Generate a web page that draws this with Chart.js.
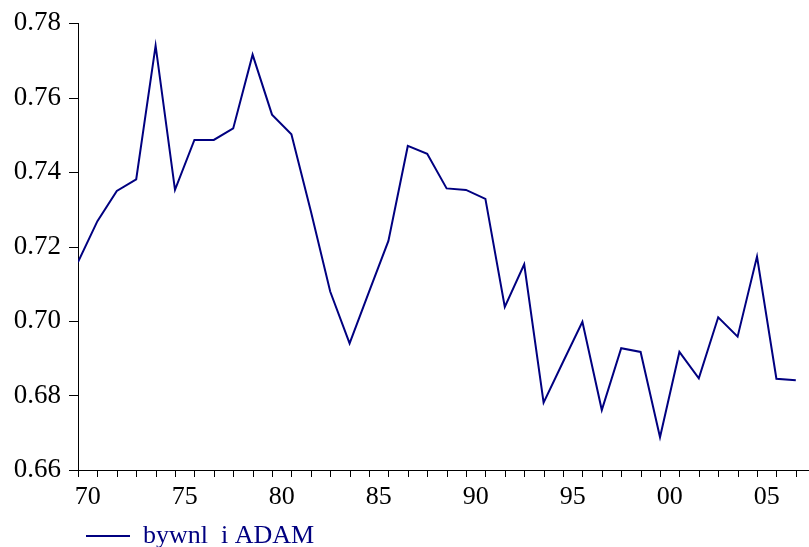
<!DOCTYPE html>
<html>
<head>
<meta charset="utf-8">
<script src="https://cdn.jsdelivr.net/npm/chart.js@4/dist/chart.umd.min.js"></script>
<style>
  html, body { margin: 0; padding: 0; background: #ffffff; }
  #wrap { width: 809px; height: 547px; }
</style>
</head>
<body>
<div id="wrap"><canvas id="chart" width="809" height="547"></canvas></div>
<script>
// Annual observations, one point per year
const years = [1970, 1971, 1972, 1973, 1974, 1975, 1976, 1977, 1978, 1979,
               1980, 1981, 1982, 1983, 1984, 1985, 1986, 1987, 1988, 1989,
               1990, 1991, 1992, 1993, 1994, 1995, 1996, 1997, 1998, 1999,
               2000, 2001, 2002, 2003, 2004, 2005, 2006, 2007];
const bywnl = [0.7158, 0.7268, 0.7349, 0.7380, 0.7739, 0.7352, 0.7486, 0.7486, 0.7517, 0.7715,
               0.7554, 0.7501, 0.7295, 0.7079, 0.6940, 0.7078, 0.7215, 0.7470, 0.7449, 0.7356,
               0.7352, 0.7328, 0.7038, 0.7152, 0.6781, 0.6890, 0.6998, 0.6761, 0.6927, 0.6917,
               0.6688, 0.6917, 0.6846, 0.7010, 0.6958, 0.7173, 0.6845, 0.6841];
const seriesName = 'bywnl  i ADAM';
// Labelled years on the time axis (shown as two digits, centred in the year)
const labelYears = [1970, 1975, 1980, 1985, 1990, 1995, 2000, 2005];
// Value axis
const yMin = 0.66, yMax = 0.78, yStep = 0.02;
const xMin = 1970, xMax = 2007.68;

const serif = '"Liberation Serif", "Times New Roman", Times, serif';
const navy = '#000080';

const points = years.map((yr, i) => ({ x: yr, y: bywnl[i] }));

// Outward tick marks: one per year on the time axis, one per label on the value axis
const tickMarks = {
  id: 'tickMarks',
  afterDraw(chart) {
    const { ctx, chartArea } = chart;
    const xs = chart.scales.x, ys = chart.scales.y;
    ctx.save();
    ctx.strokeStyle = '#000000';
    ctx.lineWidth = 1;
    ctx.beginPath();
    years.forEach(v => {
      const px = Math.round(xs.getPixelForValue(v)) + 0.5;
      ctx.moveTo(px, chartArea.bottom);
      ctx.lineTo(px, chartArea.bottom + 7);
    });
    ys.ticks.forEach(t => {
      const py = Math.round(ys.getPixelForValue(t.value)) + 0.5;
      ctx.moveTo(chartArea.left - 9, py);
      ctx.lineTo(chartArea.left, py);
    });
    ctx.stroke();
    ctx.restore();
  }
};

new Chart(document.getElementById('chart'), {
  type: 'line',
  data: {
    datasets: [{
      label: seriesName,
      data: points,
      borderColor: navy,
      backgroundColor: navy,
      borderWidth: 2,
      pointRadius: 0,
      tension: 0,
      fill: false
    }]
  },
  options: {
    responsive: false,
    devicePixelRatio: 1,
    animation: false,
    events: [],
    layout: { padding: { top: 23, right: 0, bottom: -12, left: 0 } },
    scales: {
      x: {
        type: 'linear',
        position: 'bottom',
        min: xMin,
        max: xMax,
        afterBuildTicks: (scale) => {
          scale.ticks = labelYears.map(v => ({ value: v + 0.5 }));
        },
        afterFit: (scale) => { scale.height = 45; },
        ticks: {
          display: true,
          autoSkip: false,
          maxRotation: 0,
          padding: 14,
          color: '#000000',
          font: { family: serif, size: 26, lineHeight: 1 },
          callback: (v) => String(Math.floor(v) % 100).padStart(2, '0')
        },
        grid: { display: false, drawTicks: false },
        border: { display: true, color: '#000000', width: 1 }
      },
      y: {
        type: 'linear',
        position: 'left',
        min: yMin,
        max: yMax,
        afterFit: (scale) => {
          scale.width = 78;
          scale.paddingTop = 12;
          scale.paddingBottom = 12;
        },
        ticks: {
          stepSize: yStep,
          padding: 17,
          color: '#000000',
          font: { family: serif, size: 27 },
          callback: (v) => v.toFixed(2)
        },
        grid: { display: false, drawTicks: false },
        border: { display: true, color: '#000000', width: 1 }
      }
    },
    plugins: {
      tooltip: { enabled: false },
      title: { display: false },
      legend: {
        display: true,
        position: 'bottom',
        align: 'start',
        fullSize: false,
        labels: {
          usePointStyle: true,
          pointStyle: 'line',
          pointStyleWidth: 44,
          padding: 8,
          color: navy,
          font: { family: serif, size: 26 }
        }
      }
    }
  },
  plugins: [tickMarks]
});
</script>
</body>
</html>
